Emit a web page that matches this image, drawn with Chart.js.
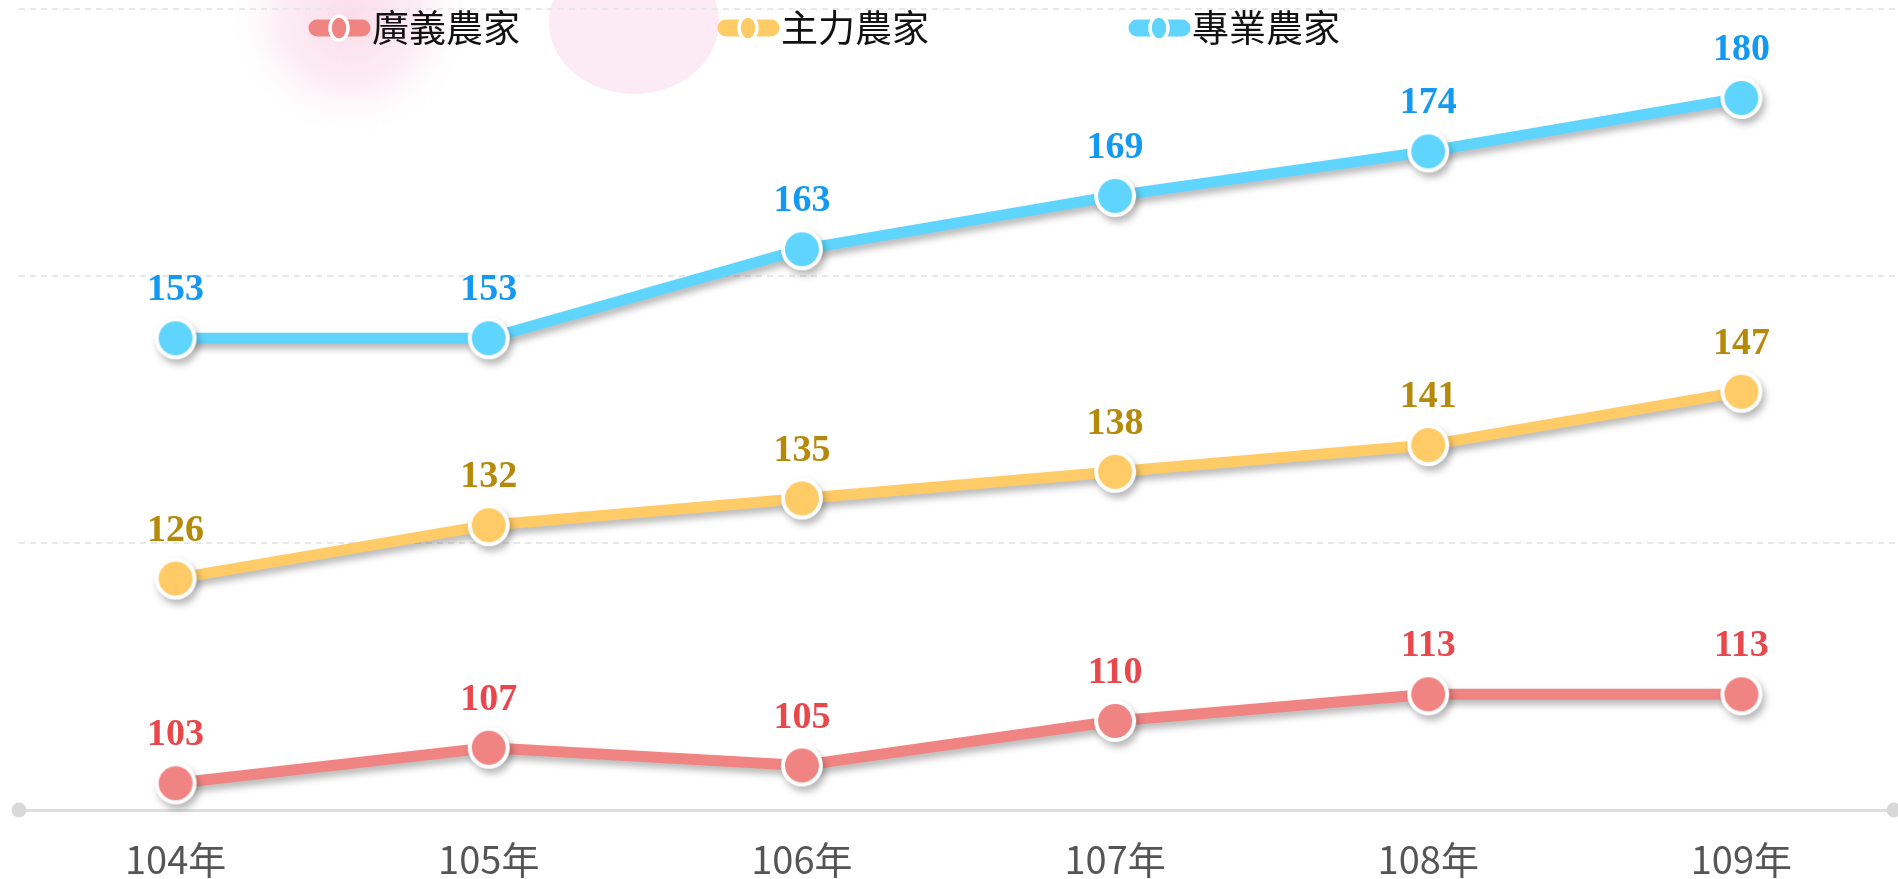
<!DOCTYPE html>
<html>
<head>
<meta charset="utf-8">
<script src="https://cdn.jsdelivr.net/npm/chart.js@4"></script>
<style>
  html, body { margin: 0; padding: 0; background: #fff; }
  #chart { display: block; }
</style>
</head>
<body>
<canvas id="chart" width="1898" height="879"></canvas>
<script>
const years = ['104年', '105年', '106年', '107年', '108年', '109年'];
const broadFarmers = [103, 107, 105, 110, 113, 113];
const mainFarmers = [126, 132, 135, 138, 141, 147];
const proFarmers = [153, 153, 163, 169, 174, 180];
const seriesNames = ['廣義農家', '主力農家', '專業農家'];
const yTicks = [100, 130, 160, 190];

const lineColors = ['#f08482', '#ffcb66', '#5fd5fe'];
const labelColors = ['#e8474b', '#b5890a', '#1499f2'];
const cjkFont = '"Noto Sans CJK TC", "Noto Sans", sans-serif';

// white-ringed dot, drawn once per colour so the shadow only falls outside
function dotImage(color) {
  const c = document.createElement('canvas');
  c.width = 44;
  c.height = 44;
  const g = c.getContext('2d');
  g.fillStyle = '#fff';
  g.beginPath();
  g.arc(22, 22, 21, 0, Math.PI * 2);
  g.fill();
  g.fillStyle = color;
  g.beginPath();
  g.arc(22, 22, 17, 0, Math.PI * 2);
  g.fill();
  return c;
}

// pink blobs behind the legend
const backdrop = {
  id: 'backdrop',
  beforeDraw(chart) {
    const ctx = chart.ctx;
    ctx.save();
    let g = ctx.createRadialGradient(350, 15, 0, 350, 15, 125);
    g.addColorStop(0, 'rgba(250, 212, 228, 0.8)');
    g.addColorStop(0.55, 'rgba(251, 224, 236, 0.6)');
    g.addColorStop(1, 'rgba(255, 255, 255, 0)');
    ctx.fillStyle = g;
    ctx.fillRect(200, 0, 300, 150);
    ctx.fillStyle = '#fcebf4';
    ctx.beginPath();
    ctx.ellipse(634, 22, 85, 72, 0, 0, Math.PI * 2);
    ctx.fill();
    ctx.restore();
  }
};

// drop shadow for lines and points
const shadow = {
  id: 'shadow',
  beforeDatasetsDraw(chart) {
    const ctx = chart.ctx;
    ctx.save();
    ctx.shadowColor = 'rgba(0, 0, 0, 0.28)';
    ctx.shadowBlur = 7;
    ctx.shadowOffsetX = 3;
    ctx.shadowOffsetY = 5;
  },
  afterDatasetsDraw(chart) {
    chart.ctx.restore();
  }
};

// axis end dots, value labels, legend
const extras = {
  id: 'extras',
  afterDraw(chart) {
    const ctx = chart.ctx;
    const area = chart.chartArea;
    const yBase = chart.scales.y.getPixelForValue(yTicks[0]);
    ctx.save();
    ctx.fillStyle = '#d9d9d9';
    [area.left, area.right - 4].forEach(x => {
      ctx.beginPath();
      ctx.arc(x, yBase, 7.5, 0, Math.PI * 2);
      ctx.fill();
    });

    ctx.font = 'bold 38px "Liberation Serif", "Times New Roman", serif';
    ctx.textAlign = 'center';
    ctx.textBaseline = 'alphabetic';
    chart.data.datasets.forEach((ds, i) => {
      const meta = chart.getDatasetMeta(i);
      ctx.fillStyle = labelColors[i];
      meta.data.forEach((pt, j) => {
        ctx.fillText(String(ds.data[j]), pt.x, pt.y - 38);
      });
    });

    const legendX = [309, 718, 1129];
    const ly = 28;
    chart.data.datasets.forEach((ds, i) => {
      const x = legendX[i];
      ctx.strokeStyle = lineColors[i];
      ctx.lineWidth = 17;
      ctx.lineCap = 'round';
      ctx.beginPath();
      ctx.moveTo(x + 8, ly);
      ctx.lineTo(x + 53, ly);
      ctx.stroke();
      ctx.fillStyle = lineColors[i];
      ctx.strokeStyle = '#fff';
      ctx.lineWidth = 3.5;
      ctx.beginPath();
      ctx.ellipse(x + 30, ly, 9, 12, 0, 0, Math.PI * 2);
      ctx.fill();
      ctx.stroke();
      ctx.fillStyle = '#111';
      ctx.font = '37px ' + cjkFont;
      ctx.textAlign = 'left';
      ctx.textBaseline = 'middle';
      ctx.fillText(ds.label, x + 63, ly);
    });
    ctx.restore();
  }
};

function makeSet(name, values, i) {
  return {
    label: name,
    data: values,
    borderColor: lineColors[i],
    backgroundColor: lineColors[i],
    borderWidth: 11,
    pointStyle: dotImage(lineColors[i]),
    pointRadius: 21,
    pointHoverRadius: 21,
    tension: 0,
    clip: false
  };
}

new Chart(document.getElementById('chart'), {
  type: 'line',
  data: {
    labels: years,
    datasets: [
      makeSet(seriesNames[0], broadFarmers, 0),
      makeSet(seriesNames[1], mainFarmers, 1),
      makeSet(seriesNames[2], proFarmers, 2)
    ]
  },
  options: {
    responsive: false,
    animation: false,
    devicePixelRatio: 1,
    layout: { autoPadding: false, padding: { left: 19, right: 0, top: 9, bottom: 0 } },
    plugins: {
      legend: { display: false },
      tooltip: { enabled: false }
    },
    scales: {
      x: {
        offset: true,
        afterFit(scale) { scale.height = 69; },
        grid: { display: false, drawTicks: false },
        border: { display: true, color: '#dedede', width: 3 },
        ticks: {
          color: '#555',
          padding: 31,
          font: { family: cjkFont, size: 38, lineHeight: 1 }
        }
      },
      y: {
        min: yTicks[0],
        max: yTicks[yTicks.length - 1],
        afterBuildTicks(scale) {
          scale.ticks = yTicks.map(v => ({ value: v }));
        },
        afterFit(scale) { scale.width = 0; },
        ticks: { display: false },
        grid: {
          drawTicks: false,
          lineWidth: 2,
          color: ctx => (ctx.tick && ctx.tick.value === yTicks[0]) ? 'rgba(0,0,0,0)' : '#e8e8e8'
        },
        border: { display: false, dash: [6, 5] }
      }
    }
  },
  plugins: [backdrop, shadow, extras]
});
</script>
</body>
</html>
